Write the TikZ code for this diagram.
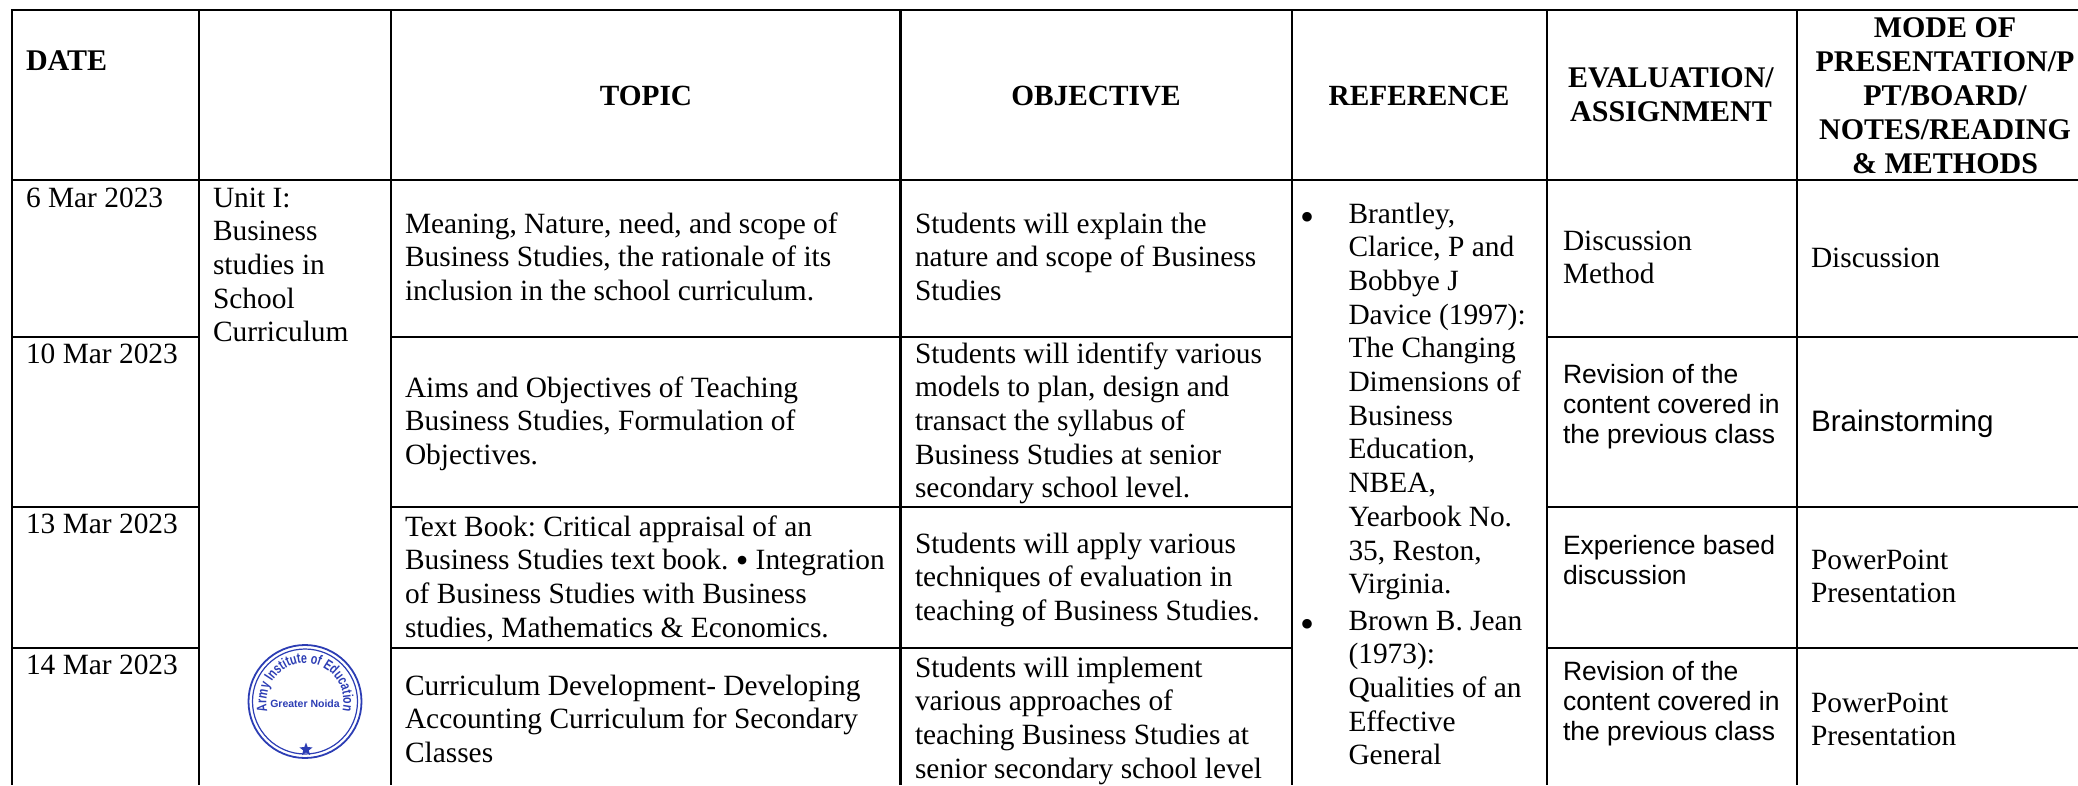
\documentclass[tikz,border=0pt]{standalone}
\usepackage{fontspec}
\setmainfont{Liberation Serif}
\newfontfamily\arialf{Liberation Sans}
\newfontfamily\stampf[FakeStretch=0.74]{Liberation Sans}
\usetikzlibrary{decorations.text,shapes.geometric}
\definecolor{stampblue}{HTML}{2C3DB4}
\newcommand{\Tx}[1]{\begin{tabular}[t]{@{}l@{}}#1\end{tabular}}
\newcommand{\Tc}[1]{\begin{tabular}[t]{@{}c@{}}#1\end{tabular}}
\frenchspacing
\tikzset{
  x=1pt,y=-1pt,
  thickrule/.style={line width=2.7pt,black},
  thinrule/.style={line width=2.3pt,black},
  serifcell/.style={anchor=base west,inner sep=0pt,outer sep=0pt,font=\frenchspacing\fontsize{29.4}{33.7}\selectfont},
  sanscell/.style={anchor=base west,inner sep=0pt,outer sep=0pt,font=\arialf\frenchspacing\fontsize{26.5}{30.3}\selectfont},
  headcell/.style={anchor=base,inner sep=0pt,outer sep=0pt,font=\bfseries\fontsize{29.3}{34}\selectfont},
  wideheadcell/.style={anchor=base,inner sep=0pt,outer sep=0pt,font=\bfseries\fontsize{30}{34}\selectfont},
  bulletcell/.style={anchor=base,inner sep=0pt,outer sep=0pt,font=\fontsize{40}{40}\selectfont},
  stampring/.style={draw=stampblue,line width=1.5pt},
}
\begin{document}
\begin{tikzpicture}
\useasboundingbox (0,0) rectangle (2078,785);
% grid
\draw[thickrule] (10.8,10) -- (2078,10);
\draw[thickrule] (10.8,180) -- (2078,180);
\foreach \yy in {337,507,648}{
  \draw[thickrule] (12,\yy) -- (199,\yy);
  \draw[thickrule] (391,\yy) -- (1292,\yy);
  \draw[thickrule] (1547,\yy) -- (2078,\yy);
}
\foreach \xx in {12,199,391,900.5,1292,1547,1797}{
  \draw[thinrule] (\xx,10) -- (\xx,785);
}
% header
\node[wideheadcell,anchor=base west] (hdate) at (26,70) {DATE};
\node[headcell] (htopic) at (646,105) {TOPIC};
\node[headcell] (hobj) at (1096,105) {OBJECTIVE};
\node[headcell] (href) at (1419,105) {REFERENCE};
\node[wideheadcell] (heval) at (1671,87) {\Tc{EVALUATION/\\ASSIGNMENT}};
\node[wideheadcell] (hmode) at (1945,37) {\Tc{MODE OF\\PRESENTATION/P\\PT/BOARD/\\NOTES/READING\\\& METHODS}};
% dates
\node[serifcell] (d1) at (26,207) {6 Mar 2023};
\node[serifcell] (d2) at (26,363) {10 Mar 2023};
\node[serifcell] (d3) at (26,533) {13 Mar 2023};
\node[serifcell] (d4) at (26,674) {14 Mar 2023};
% unit
\node[serifcell] (unit) at (213,207) {\Tx{Unit I:\\Business\\studies in\\School\\Curriculum}};
% topics
\node[serifcell] (t1) at (405,233) {\Tx{Meaning, Nature, need, and scope of\\Business Studies, the rationale of its\\inclusion in the school curriculum.}};
\node[serifcell] (t2) at (405,397) {\Tx{Aims and Objectives of Teaching\\Business Studies, Formulation of\\Objectives.}};
\node[serifcell] (t3) at (405,536) {\Tx{Text Book: Critical appraisal of an\\Business Studies text book. {\fontsize{36}{30}\selectfont\raisebox{-3pt}{\textbullet}} Integration\\of Business Studies with Business\\studies, Mathematics \& Economics.}};
\node[serifcell] (t4) at (405,695) {\Tx{Curriculum Development- Developing\\Accounting Curriculum for Secondary\\Classes}};
% objectives
\node[serifcell] (o1) at (915,233) {\Tx{Students will explain the\\nature and scope of Business\\Studies}};
\node[serifcell] (o2) at (915,363) {\Tx{Students will identify various\\models to plan, design and\\transact the syllabus of\\Business Studies at senior\\secondary school level.}};
\node[serifcell] (o3) at (915,553) {\Tx{Students will apply various\\techniques of evaluation in\\teaching of Business Studies.}};
\node[serifcell] (o4) at (915,677) {\Tx{Students will implement\\various approaches of\\teaching Business Studies at\\senior secondary school level}};
% references
\node[bulletcell] (b1) at (1307,230) {\textbullet};
\node[serifcell] (r1) at (1348.5,223) {\Tx{Brantley,\\Clarice, P and\\Bobbye J\\Davice (1997):\\The Changing\\Dimensions of\\Business\\Education,\\NBEA,\\Yearbook No.\\35, Reston,\\Virginia.}};
\node[bulletcell] (b2) at (1307,637.5) {\textbullet};
\node[serifcell] (r2) at (1348.5,630) {\Tx{Brown B. Jean\\(1973):\\Qualities of an\\Effective\\General}};
% evaluation
\node[serifcell] (e1) at (1563,250) {\Tx{Discussion\\Method}};
\node[sanscell] (e2) at (1563,383) {\Tx{Revision of the\\content covered in\\the previous class}};
\node[sanscell] (e3) at (1563,554) {\Tx{Experience based\\discussion}};
\node[sanscell] (e4) at (1563,680) {\Tx{Revision of the\\content covered in\\the previous class}};
% mode
\node[serifcell] (m1) at (1811,267) {Discussion};
\node[sanscell,font=\arialf\fontsize{29.6}{33}\selectfont] (m2) at (1811,431) {Brainstorming};
\node[serifcell] (m3) at (1811,569) {\Tx{PowerPoint\\Presentation}};
\node[serifcell] (m4) at (1811,712) {\Tx{PowerPoint\\Presentation}};
% stamp
\begin{scope}[shift={(305,701.5)},x=1pt,y=1pt]
  \draw[stampring,line width=1.8pt] (0,0) circle[radius=56.5];
  \draw[stampring,line width=1.2pt] (0,0) circle[radius=52.5];
  \path[decorate,decoration={text along path,text align=center,
    text={|\stampf\bfseries\fontsize{14.5}{15}\selectfont\color{stampblue}|Army Institute of Education}}]
    (210:38.5) arc[start angle=210,end angle=-30,radius=38.5];
  \node[inner sep=0pt,text=stampblue,font=\arialf\bfseries\fontsize{10.5}{12}\selectfont] (sgn) at (0,-2.5) {Greater Noida};
  \node[star,star points=5,star point ratio=2.4,fill=stampblue,inner sep=0pt,minimum size=14pt] (sstar) at (1,-48) {};
\end{scope}
\end{tikzpicture}
\end{document}
